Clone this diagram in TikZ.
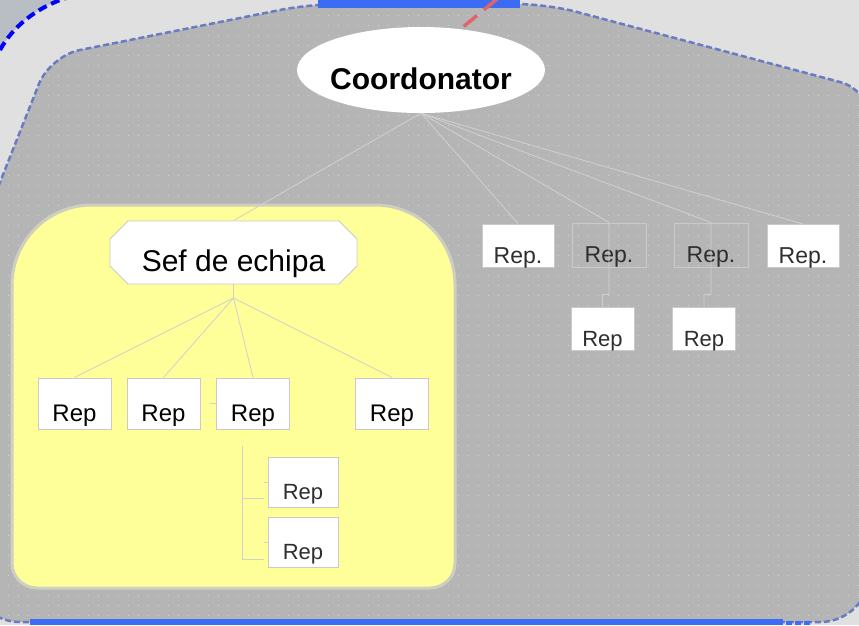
\documentclass[tikz,border=0pt]{standalone}
\usepackage{fontspec}
\setmainfont{Liberation Sans}
\usepackage{tikz}
\usetikzlibrary{shapes.geometric}
\usetikzlibrary{shapes.misc}

\definecolor{paleback}{HTML}{E0E0E0}
\definecolor{cornergray}{HTML}{B9BEC4}
\definecolor{areagray}{HTML}{B5B5B5}
\definecolor{dotgray}{HTML}{D2D2D2}
\definecolor{areaborder}{HTML}{6A7BC2}
\definecolor{selblue}{HTML}{3C6CF4}
\definecolor{teamyellow}{HTML}{FFFF99}
\definecolor{teamborder}{HTML}{CFCFC0}
\definecolor{boxline}{HTML}{CACACA}
\definecolor{linkgray}{HTML}{D0D0D0}
\definecolor{redlink}{HTML}{E06468}
\definecolor{reptext}{HTML}{2E2E2E}

\begin{document}
\begin{tikzpicture}[x=1pt,y=-1pt,
  link/.style={draw=linkgray,line width=0.8pt},
  chief/.style={ellipse,fill=white,minimum width=248pt,minimum height=86pt,
    inner xsep=-22pt,inner ysep=0pt,text height=38pt,text depth=0pt,
    font=\fontsize{30}{34}\selectfont\bfseries},
  lead/.style={chamfered rectangle,chamfered rectangle xsep=8pt,
    chamfered rectangle ysep=10pt,draw=boxline,fill=white,line width=0.8pt,
    minimum width=247pt,minimum height=57pt,inner sep=0pt,
    text height=40pt,text depth=3pt,font=\fontsize{30}{34}\selectfont},
  repbox/.style={rectangle,draw=boxline,fill=white,line width=1pt,inner sep=0pt,
    text height=37pt,text depth=2pt},
  toprep/.style={repbox,minimum width=73pt,minimum height=51pt,
    font=\fontsize{24}{28}\selectfont},
  subrep/.style={repbox,minimum width=70pt,minimum height=50pt,text=reptext,
    font=\fontsize{22}{26}\selectfont},
  farrep/.style={repbox,minimum width=72pt,minimum height=43pt,text=reptext,
    font=\fontsize{23}{27}\selectfont},
  ghost/.style={farrep,fill=none,minimum width=74pt,minimum height=44pt},
  lowrep/.style={repbox,minimum width=63pt,minimum height=43pt,text=reptext,
    font=\fontsize{22}{26}\selectfont}]
  \useasboundingbox (0,0) rectangle (859,625);
  \clip (0,0) rectangle (859,625);
  \fill[paleback] (0,0) rectangle (859,625);
  % corner left over from the frame above
  \fill[cornergray] (0,50) .. controls (12,28) and (35,8) .. (66,-2) -- (-5,-5) -- cycle;
  \draw[blue,line width=4pt,dash pattern=on 9pt off 5pt] (0,50) .. controls (12,28) and (35,8) .. (66,-2);

  \begin{scope}
    \clip[rounded corners=30pt] (-30,258) -- (50,56) -- (310,4) -- (547,4) -- (870,90)
      -- (870,300) [rounded corners=50pt] -- (870,622) -- (-30,622) -- cycle;
    \fill[areagray] (-5,-5) rectangle (870,640);
    \foreach \r in {0,...,62}
      \draw[dotgray,line width=1pt,dash pattern=on 1pt off 9pt] (7.5,5+10*\r) -- (870,5+10*\r);
  \end{scope}
  \draw[areaborder,line width=2.5pt,dash pattern=on 6pt off 3pt,rounded corners=30pt]
    (-30,258) -- (50,56) -- (310,4) -- (547,4) -- (870,90)
    -- (870,300) [rounded corners=50pt] -- (870,622) -- (-30,622) -- cycle;
  \fill[selblue] (318,0) rectangle (520,8);
  \fill[selblue] (30,619) rectangle (783,625);
  \draw[selblue,line width=4pt,dash pattern=on 6pt off 3pt] (786,623) -- (812,623);

  % team area
  \draw[fill=teamyellow,draw=teamborder,line width=3pt] (12,400) [rounded corners=80pt]
    -- (12,205) -- (455,205) -- (455,400) [rounded corners=25pt] -- (455,588) -- (12,588) -- cycle;

  \node[chief] (coord) at (421,70) {Coordonator};
  \node[lead] (sef) at (233.5,252.5) {Sef de echipa};

  \node[toprep] (rA) at (74.5,403.5) {Rep};
  \node[toprep] (rB) at (163.5,403.5) {Rep};
  \node[toprep] (rC) at (253,403.5) {Rep};
  \node[toprep] (rD) at (392,403.5) {Rep};
  \node[subrep] (rE) at (303,482) {Rep};
  \node[subrep] (rF) at (303,542) {Rep};

  \node[farrep] (rR1) at (518,245.5) {Rep.};
  \node[ghost] (rR2) at (609,245) {Rep.};
  \node[ghost] (rR3) at (711,245) {Rep.};
  \node[farrep] (rR4) at (803,246) {Rep.};
  \node[lowrep] (rS1) at (602.5,328.5) {Rep};
  \node[lowrep] (rS2) at (704,328.5) {Rep};

  \coordinate (hub) at (233.5,298);
  \coordinate (subtop) at (242,446);
  \coordinate (redtail) at (497,-1);
  \draw[link] (coord.south) -- (sef.north);
  \draw[link] (sef.south) -- (hub);
  \foreach \t in {rA,rB,rC,rD}
    \draw[link] (hub) -- (\t.north);
  \draw[link] ([xshift=-6pt]rC.west) -- (rC.west);
  \draw[link] (subtop) |- ([xshift=-4pt,yshift=9pt]rE.south west);
  \draw[link] (subtop) |- ([xshift=-4pt,yshift=8pt]rF.south west);
  \draw[link] ([xshift=-4pt]rE.west) -- (rE.west);
  \draw[link] ([xshift=-4pt]rF.west) -- (rF.west);
  \foreach \t in {rR1,rR4}
    \draw[link] (coord.south) -- (\t.north);
  \draw[link] (coord.south) -- (rR2.north) |- ([yshift=12pt]rS1.north) -- (rS1.north);
  \draw[link] (coord.south) -- (rR3.north) |- ([yshift=12pt]rS2.north) -- (rS2.north);
  \draw[redlink,line width=3.5pt,dash pattern=on 17pt off 9pt] (redtail) -- (coord.46);
\end{tikzpicture}
\end{document}
